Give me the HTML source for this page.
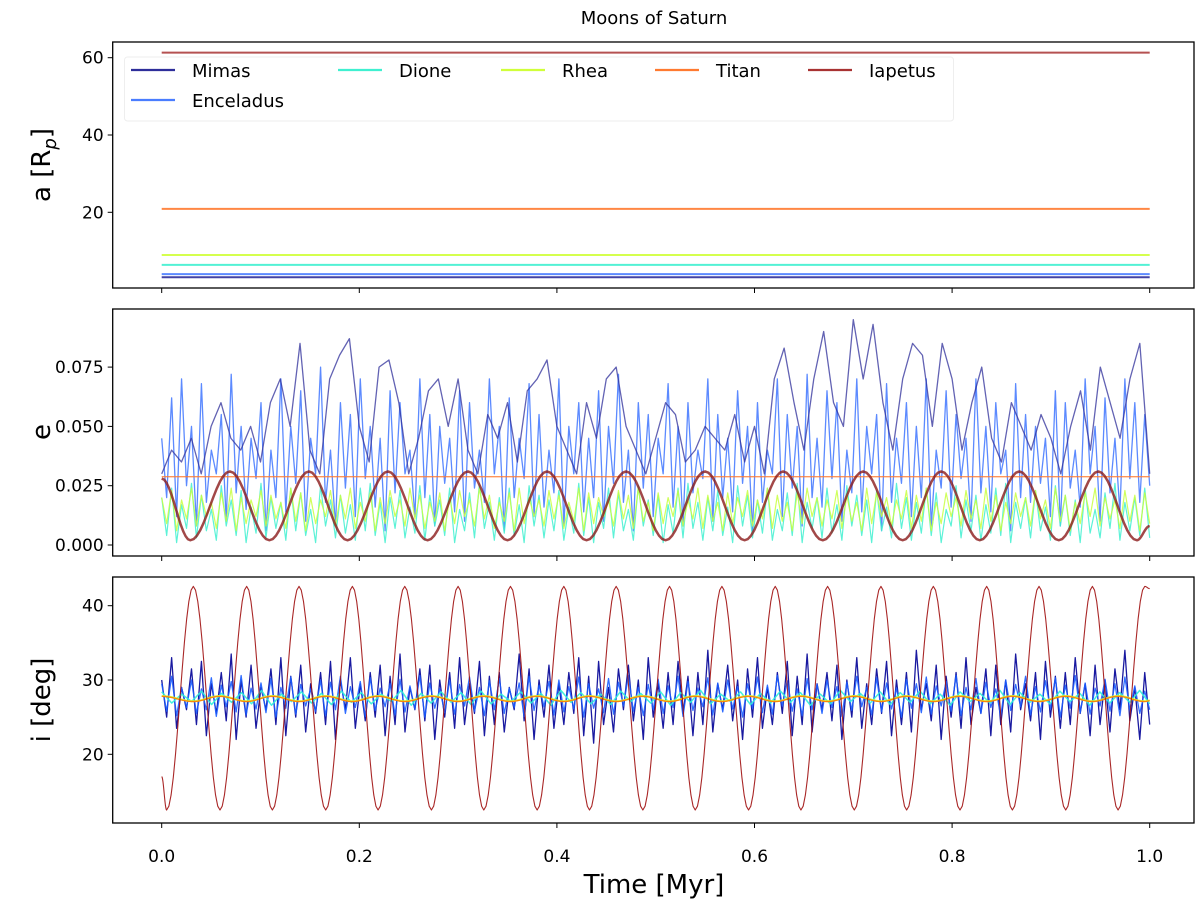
<!DOCTYPE html>
<html><head><meta charset="utf-8"><style>
html,body{margin:0;padding:0;background:#fff;}
svg{display:block;font-family:"DejaVu Sans","Liberation Sans",sans-serif;}
</style></head><body>
<svg id="chart" width="1200" height="905" viewBox="0 0 1200 905" xmlns="http://www.w3.org/2000/svg">
<text x="654" y="24" text-anchor="middle" font-size="18">Moons of Saturn</text>
<g id="plots"></g>
</svg>
<script>
const xTicks=[0,0.2,0.4,0.6,0.8,1.0];
const xTickLabels=["0.0","0.2","0.4","0.6","0.8","1.0"];
const aTicks=[20,40,60];
const eTicks=[0,0.025,0.05,0.075];
const eTickLabels=["0.000","0.025","0.050","0.075"];
const iTicks=[20,30,40];
const moons=["Mimas","Enceladus","Dione","Rhea","Titan","Iapetus"];
const aValues=[3.2,4.0,6.4,8.95,20.9,61.3];
const mimasE=[0.03,0.04,0.035,0.045,0.03,0.05,0.06,0.045,0.04,0.05,0.035,0.06,0.07,0.05,0.085,0.04,0.03,0.07,0.08,0.087,0.05,0.035,0.075,0.078,0.06,0.03,0.045,0.065,0.07,0.05,0.07,0.04,0.03,0.055,0.045,0.06,0.035,0.065,0.07,0.078,0.05,0.04,0.03,0.06,0.045,0.07,0.075,0.05,0.04,0.03,0.045,0.06,0.055,0.035,0.04,0.05,0.045,0.04,0.055,0.035,0.05,0.03,0.07,0.083,0.06,0.04,0.07,0.09,0.06,0.05,0.095,0.07,0.093,0.06,0.04,0.07,0.085,0.08,0.05,0.085,0.07,0.04,0.06,0.075,0.045,0.035,0.06,0.05,0.04,0.055,0.045,0.03,0.05,0.065,0.04,0.075,0.06,0.045,0.07,0.085,0.03];
const encEHigh=[0.045,0.062,0.07,0.05,0.068,0.04,0.055,0.072,0.05,0.045,0.06,0.04,0.07,0.05,0.065,0.045,0.075,0.04,0.06,0.055,0.07,0.05,0.045,0.065,0.06,0.04,0.07,0.055,0.05,0.045,0.065,0.06,0.04,0.07,0.05,0.062,0.045,0.068,0.055,0.04,0.07,0.05,0.06,0.045,0.065,0.05,0.072,0.04,0.06,0.055,0.045,0.068,0.05,0.06,0.04,0.07,0.055,0.045,0.065,0.05,0.06,0.04,0.07,0.055,0.05,0.072,0.045,0.065,0.06,0.04,0.07,0.05,0.055,0.068,0.045,0.06,0.05,0.07,0.04,0.065,0.055,0.045,0.07,0.05,0.06,0.04,0.068,0.055,0.05,0.045,0.065,0.06,0.04,0.07,0.05,0.062,0.045,0.07,0.06,0.055];
const encELow=[0.02,0.012,0.025,0.008,0.018,0.03,0.01,0.022,0.015,0.028,0.006,0.02,0.014,0.026,0.01,0.03,0.018,0.008,0.024,0.012,0.028,0.016,0.006,0.022,0.03,0.012,0.02,0.008,0.026,0.014,0.01,0.024,0.018,0.03,0.006,0.02,0.028,0.012,0.016,0.022,0.008,0.03,0.014,0.02,0.01,0.026,0.018,0.006,0.024,0.012,0.03,0.016,0.008,0.022,0.028,0.01,0.02,0.014,0.026,0.006,0.018,0.03,0.012,0.024,0.008,0.02,0.016,0.028,0.01,0.022,0.014,0.03,0.006,0.018,0.026,0.012,0.02,0.008,0.024,0.016,0.028,0.01,0.022,0.014,0.03,0.006,0.02,0.018,0.026,0.012,0.008,0.024,0.016,0.03,0.01,0.022,0.014,0.028,0.018,0.025];
const dioneEHigh=[0.02,0.024,0.017,0.026,0.021,0.015,0.025,0.019,0.023,0.016,0.026,0.02,0.018,0.024,0.022,0.015,0.025,0.019,0.021,0.017,0.024,0.026,0.018,0.02,0.023,0.016,0.025,0.021,0.019,0.024,0.015,0.022,0.026,0.018,0.02,0.024,0.017,0.025,0.021,0.019,0.023,0.016,0.026,0.02,0.018,0.024,0.022,0.015,0.025,0.019,0.021,0.017,0.024,0.026,0.018,0.02,0.023,0.016,0.025,0.021,0.019,0.024,0.015,0.022,0.026,0.018,0.02,0.024,0.017,0.025,0.021,0.019,0.023,0.016,0.026,0.02,0.018,0.024,0.022,0.015,0.025,0.019,0.021,0.017,0.024,0.026,0.018,0.02,0.023,0.016,0.025,0.021,0.019,0.024,0.015,0.022,0.026,0.018,0.02,0.024];
const dioneELow=[0.004,0.001,0.007,0.003,0.006,0.002,0.008,0.004,0.001,0.005,0.003,0.007,0.002,0.006,0.004,0.001,0.008,0.003,0.005,0.002,0.006,0.004,0.001,0.007,0.003,0.005,0.002,0.008,0.004,0.001,0.006,0.003,0.007,0.002,0.005,0.004,0.001,0.008,0.003,0.006,0.002,0.005,0.004,0.001,0.007,0.003,0.006,0.002,0.008,0.004,0.001,0.005,0.003,0.007,0.002,0.006,0.004,0.001,0.008,0.003,0.005,0.002,0.006,0.004,0.001,0.007,0.003,0.005,0.002,0.008,0.004,0.001,0.006,0.003,0.007,0.002,0.005,0.004,0.001,0.008,0.003,0.006,0.002,0.005,0.004,0.001,0.007,0.003,0.006,0.002,0.008,0.004,0.001,0.005,0.003,0.007,0.002,0.006,0.004,0.003];
const rheaEHigh=[0.02,0.023,0.019,0.024,0.021,0.018,0.022,0.024,0.02,0.019,0.023,0.021,0.018,0.024,0.022,0.02,0.019,0.023,0.021,0.024,0.018,0.022,0.02,0.023,0.019,0.024,0.021,0.018,0.022,0.02,0.023,0.019,0.024,0.021,0.018,0.022,0.024,0.02,0.019,0.023,0.021,0.018,0.024,0.022,0.02,0.019,0.023,0.021,0.024,0.018,0.022,0.02,0.023,0.019,0.024,0.021,0.018,0.022,0.02,0.023,0.019,0.024,0.021,0.018,0.022,0.024,0.02,0.019,0.023,0.021,0.018,0.024,0.022,0.02,0.019,0.023,0.021,0.024,0.018,0.022,0.02,0.023,0.019,0.024,0.021,0.018,0.022,0.02,0.023,0.019,0.024,0.021,0.018,0.022,0.024,0.02,0.019,0.023,0.021,0.022];
const rheaELow=[0.009,0.006,0.011,0.008,0.012,0.007,0.01,0.006,0.009,0.012,0.008,0.011,0.007,0.01,0.006,0.009,0.012,0.008,0.011,0.007,0.01,0.006,0.009,0.012,0.008,0.011,0.007,0.01,0.006,0.009,0.012,0.008,0.011,0.007,0.01,0.006,0.009,0.012,0.008,0.011,0.007,0.01,0.006,0.009,0.012,0.008,0.011,0.007,0.01,0.006,0.009,0.012,0.008,0.011,0.007,0.01,0.006,0.009,0.012,0.008,0.011,0.007,0.01,0.006,0.009,0.012,0.008,0.011,0.007,0.01,0.006,0.009,0.012,0.008,0.011,0.007,0.01,0.006,0.009,0.012,0.008,0.011,0.007,0.01,0.006,0.009,0.012,0.008,0.011,0.007,0.01,0.006,0.009,0.012,0.008,0.011,0.007,0.01,0.006,0.009];
const titanE=0.0288;
const iapEt=[0,0.029,0.069,0.109,0.149,0.188,0.229,0.269,0.310,0.350,0.390,0.430,0.470,0.510,0.550,0.590,0.629,0.669,0.710,0.750,0.789,0.828,0.868,0.908,0.948,0.987,1.0];
const iapEv=[0.028,0.002,0.031,0.002,0.031,0.002,0.031,0.002,0.031,0.002,0.031,0.002,0.031,0.002,0.031,0.002,0.031,0.002,0.031,0.002,0.031,0.002,0.031,0.002,0.031,0.002,0.008];
const mimasIHigh=[30,33,29,31.5,32.5,29.5,31,33.5,30,32,29,31.5,33,30.5,32,29.5,31,32.5,30,33,29.5,31,32,30.5,33.5,29,31.5,32,30,31,33,29.5,32.5,30.5,31,29,33.5,31.5,30,32,29.5,31,33,30.5,32.5,29,31.5,32,30,33,29.5,31,32.5,30.5,31,34,29.5,32,30,31.5,33,29,31,32.5,30.5,33.5,29.5,31,32,30,33,29.5,31.5,32.5,30,31,34,29.5,32,30.5,31,33,29,31.5,32,30,33.5,29.5,31,32.5,30.5,31,33,29.5,32,30,31.5,34,29,31];
const mimasILow=[25,23.5,26,24,22.5,25.5,24.5,22,25,23.5,26,24,22.5,25,23,25.5,24,22,26,23.5,24.5,25,22.5,24,23,26,24.5,22,25,23.5,24,25.5,22.5,24,23,26,24.5,22,25,23.5,24,25.5,22.5,21.5,24,23,26,24.5,22,25,23.5,24,25.5,22.5,24,23,26,24.5,22,25,23.5,24,25.5,22.5,24,23,26,24.5,22,25,23.5,24,25.5,22.5,24,23,26,24.5,22,25,23.5,24,25.5,22.5,24,23,26,24.5,22,25,23.5,24,25.5,22.5,24,23,26,24.5,22,24];
const encIHigh=[29.5,30.5,29,30,28.8,30.3,29.3,29.8,30.6,28.9,29.6,30.2,29,30.4,29.4,28.8,30,29.7,30.5,29.1,29.8,30.3,28.9,29.5,30.1,29.2,30.6,29.6,28.8,30,29.4,30.4,29,29.9,30.2,28.9,29.6,30.5,29.3,29.8,30,29.1,30.4,29.5,28.8,30.2,29.7,30.6,29,29.4,30.1,29.2,30.5,29.8,28.9,30.3,29.6,30,29.1,29.5,30.4,29.3,30.6,29.9,28.8,30.2,29.4,30,29.1,29.7,30.5,29,30.3,29.6,28.9,30.1,29.5,30.4,29.2,29.8,30.6,29,30.2,29.7,28.8,30,29.4,30.5,29.1,29.9,30.3,29.3,30.6,29.6,28.9,30.1,29.5,30.4,29.2,28.5];
const encILow=[25.8,25.2,26.3,25.5,26,25.1,26.4,25.7,25.3,26.1,25.6,25,26.2,25.4,26.5,25.8,25.2,26,25.5,26.3,25.1,25.9,26.4,25.3,25.7,26.1,25,26.2,25.6,25.4,26.5,25.8,25.2,26,25.5,26.3,25.1,25.9,26.4,25.3,25.7,26.1,25,26.2,25.6,25.4,26.5,25.8,25.2,26,25.5,26.3,25.1,25.9,26.4,25.3,25.7,26.1,25,26.2,25.6,25.4,26.5,25.8,25.2,26,25.5,26.3,25.1,25.9,26.4,25.3,25.7,26.1,25,26.2,25.6,25.4,26.5,25.8,25.2,26,25.5,26.3,25.1,25.9,26.4,25.3,25.7,26.1,25,26.2,25.6,25.4,26.5,25.8,25.2,26,25.5,26];
const dioneIHigh=[28.4,28.1,28.5,28.2,28.3,28.6,28.1,28.4,28.2,28.5,28.3,28.1,28.6,28.2,28.4,28.3,28.5,28.1,28.4,28.2,28.6,28.3,28.1,28.5,28.2,28.4,28.3,28.6,28.1,28.4,28.2,28.5,28.3,28.1,28.6,28.2,28.4,28.3,28.5,28.1,28.4,28.2,28.6,28.3,28.1,28.5,28.2,28.4,28.3,28.6];
const dioneILow=[26.9,27.1,26.7,27,26.8,26.6,27.1,26.9,26.7,27,26.8,27.1,26.6,26.9,27,26.7,26.8,27.1,26.9,26.6,27,26.8,26.7,27.1,26.9,26.6,27,26.8,27.1,26.7,26.9,27,26.6,26.8,27.1,26.9,26.7,27,26.8,26.6,27.1,26.9,26.7,27,26.8,27.1,26.6,26.9,27,26.8];
const titanIt=[0,0.032,0.059,0.086,0.112,0.139,0.166,0.193,0.219,0.246,0.273,0.300,0.326,0.353,0.380,0.407,0.433,0.460,0.487,0.514,0.540,0.567,0.594,0.621,0.647,0.674,0.701,0.728,0.754,0.781,0.808,0.835,0.861,0.888,0.915,0.942,0.968,0.995,1.0];
const titanIv=[27.8,27.1,27.8,27.1,27.8,27.1,27.8,27.1,27.8,27.1,27.8,27.1,27.8,27.1,27.8,27.1,27.8,27.1,27.8,27.1,27.8,27.1,27.8,27.1,27.8,27.1,27.8,27.1,27.8,27.1,27.8,27.1,27.8,27.1,27.8,27.1,27.8,27.1,27.2];
const iapIt=[0,0.005,0.032,0.059,0.086,0.112,0.139,0.166,0.193,0.219,0.246,0.273,0.300,0.326,0.353,0.380,0.407,0.433,0.460,0.487,0.514,0.540,0.567,0.594,0.621,0.647,0.674,0.701,0.728,0.754,0.781,0.808,0.835,0.861,0.888,0.915,0.942,0.968,0.995,1.0];
const iapIv=[17,12.5,42.6,12.5,42.6,12.5,42.6,12.5,42.6,12.5,42.6,12.5,42.6,12.5,42.6,12.5,42.6,12.5,42.6,12.5,42.6,12.5,42.6,12.5,42.6,12.5,42.6,12.5,42.6,12.5,42.6,12.5,42.6,12.5,42.6,12.5,42.6,12.5,42.6,42.3];

const NS="http://www.w3.org/2000/svg";
const g=document.getElementById('plots');
const L=112.7,R=1194;
const X=t=>161.7+t*988;
const yA=v=>212.3-(v-20)*3.865;
const yE=v=>545-v/0.025*59.3;
const yI=v=>680-(v-30)*7.43;
function mk(tag,attrs,parent){const e=document.createElementNS(NS,tag);for(const k in attrs)e.setAttribute(k,attrs[k]);(parent||g).appendChild(e);return e;}
function alt(hi,lo){const o=[];for(let k=0;k<hi.length;k++){o.push(hi[k]);o.push(lo[k]);}return o;}
function evenPath(vals,yf){const n=vals.length-1;return vals.map((v,k)=>(k?'L':'M')+X(k/n).toFixed(2)+' '+yf(v).toFixed(2)).join(' ');}
function smoothPath(ts,vs,yf){let d='M'+X(ts[0]).toFixed(2)+' '+yf(vs[0]).toFixed(2);for(let k=1;k<ts.length;k++){const steps=12;for(let s=1;s<=steps;s++){const f=(1-Math.cos(Math.PI*s/steps))/2;const t=ts[k-1]+(ts[k]-ts[k-1])*s/steps;const v=vs[k-1]+(vs[k]-vs[k-1])*f;d+=' L'+X(t).toFixed(2)+' '+yf(v).toFixed(2);}}return d;}
function line(d,color,w,op,name){const p=mk('path',{d:d,fill:'none',stroke:color,'stroke-width':w,'stroke-opacity':op,'stroke-linejoin':'round'});return p;}
function panel(top,bot,name){const r=mk('rect',{x:L,y:top,width:R-L,height:bot-top,fill:'none',stroke:'#000','stroke-width':1.3});
 xTicks.forEach(t=>{mk('line',{x1:X(t),x2:X(t),y1:bot,y2:bot+5,stroke:'#000','stroke-width':1});});}
function yTick(y,label,name){mk('line',{x1:L-5,x2:L,y1:y,y2:y,stroke:'#000','stroke-width':1});const t=mk('text',{x:L-9,y:y+6,'text-anchor':'end','font-size':17});t.textContent=label;}
const cols=["#2e2e9a","#4a7dff","#3ff0d0","#d0ff3a","#ff7a30","#a83232"];
// legend (drawn under lines in panel a so Iapetus line shows on top)
const lg=mk('g',{});
mk('rect',{x:124.5,y:57,width:829,height:64,rx:3,fill:'#fff','fill-opacity':0.8,stroke:'#eee'},lg);
const legX=[131,131,338,501,655,808];
const legY=[70,100,70,70,70,70];
moons.forEach((m,k)=>{const it=mk('g',{},lg);
 mk('line',{x1:legX[k],x2:legX[k]+44,y1:legY[k],y2:legY[k],stroke:cols[k],'stroke-width':2.2},it);
 const t=mk('text',{x:legX[k]+61,y:legY[k]+7,'font-size':18},it);t.textContent=m;});
// panel a
panel(42,288,'panel-semimajor-axis');
aTicks.forEach(v=>yTick(yA(v),String(v),'a-tick-label'));
aValues.forEach((v,k)=>{line('M'+X(0)+' '+yA(v)+' L'+X(1)+' '+yA(v),cols[k],2,k==5?0.85:0.9,'a-line-'+moons[k].toLowerCase());});
// panel e
panel(309,556,'panel-eccentricity');
eTicks.forEach((v,k)=>yTick(yE(v),eTickLabels[k],'e-tick-label'));
line(evenPath(alt(encEHigh,encELow),yE),'#4a7dff',1.3,0.9,'e-line-enceladus');
line(evenPath(mimasE,yE),'#2e2e9a',1.3,0.75,'e-line-mimas');
line(evenPath(alt(dioneEHigh,dioneELow),yE),'#3ff0d0',1.2,0.85,'e-line-dione');
line(evenPath(alt(rheaEHigh,rheaELow),yE),'#c8ff40',1.2,0.85,'e-line-rhea');
line('M'+X(0)+' '+yE(titanE)+' L'+X(1)+' '+yE(titanE),'#ff7a30',1.3,0.8,'e-line-titan');
line(smoothPath(iapEt,iapEv,yE),'#8b1a1a',2.5,0.8,'e-line-iapetus');
// panel i
panel(577,823,'panel-inclination');
iTicks.forEach(v=>yTick(yI(v),String(v),'i-tick-label'));
line(evenPath(alt(mimasIHigh,mimasILow),yI),'#000096',1.3,0.9,'i-line-mimas');
line(evenPath(alt(encIHigh,encILow),yI),'#1a5cff',1.3,0.9,'i-line-enceladus');
line(evenPath(alt(dioneIHigh,dioneILow),yI),'#2ff0d8',1.5,0.9,'i-line-dione');
line(smoothPath(titanIt,titanIv.map(v=>v+0.05),yI),'#d0ff3a',2,0.9,'i-line-rhea');
line(smoothPath(titanIt,titanIv,yI),'#ff7a00',1.3,0.9,'i-line-titan');
line(smoothPath(iapIt,iapIv,yI),'#a01010',1.1,0.9,'i-line-iapetus');
// x tick labels
xTicks.forEach((t,k)=>{const e=mk('text',{x:X(t),y:862,'text-anchor':'middle','font-size':17});e.textContent=xTickLabels[k];});
// axis titles
function title(x,y,txt,rot,name,html){const e=mk('text',{x:x,y:y,'text-anchor':'middle','font-size':26,transform:rot?'rotate(-90 '+x+' '+y+')':''});if(html)e.innerHTML=html;else e.textContent=txt;}
title(654,893,'Time [Myr]',false,'x-axis-title');
title(50,165,'',true,'a-axis-title','a [R<tspan font-style="italic" font-size="18" dy="6">p</tspan><tspan dy="-6">]</tspan>');
title(50,432,'e',true,'e-axis-title');
title(50,700,'i [deg]',true,'i-axis-title');
</script>
</body></html>
